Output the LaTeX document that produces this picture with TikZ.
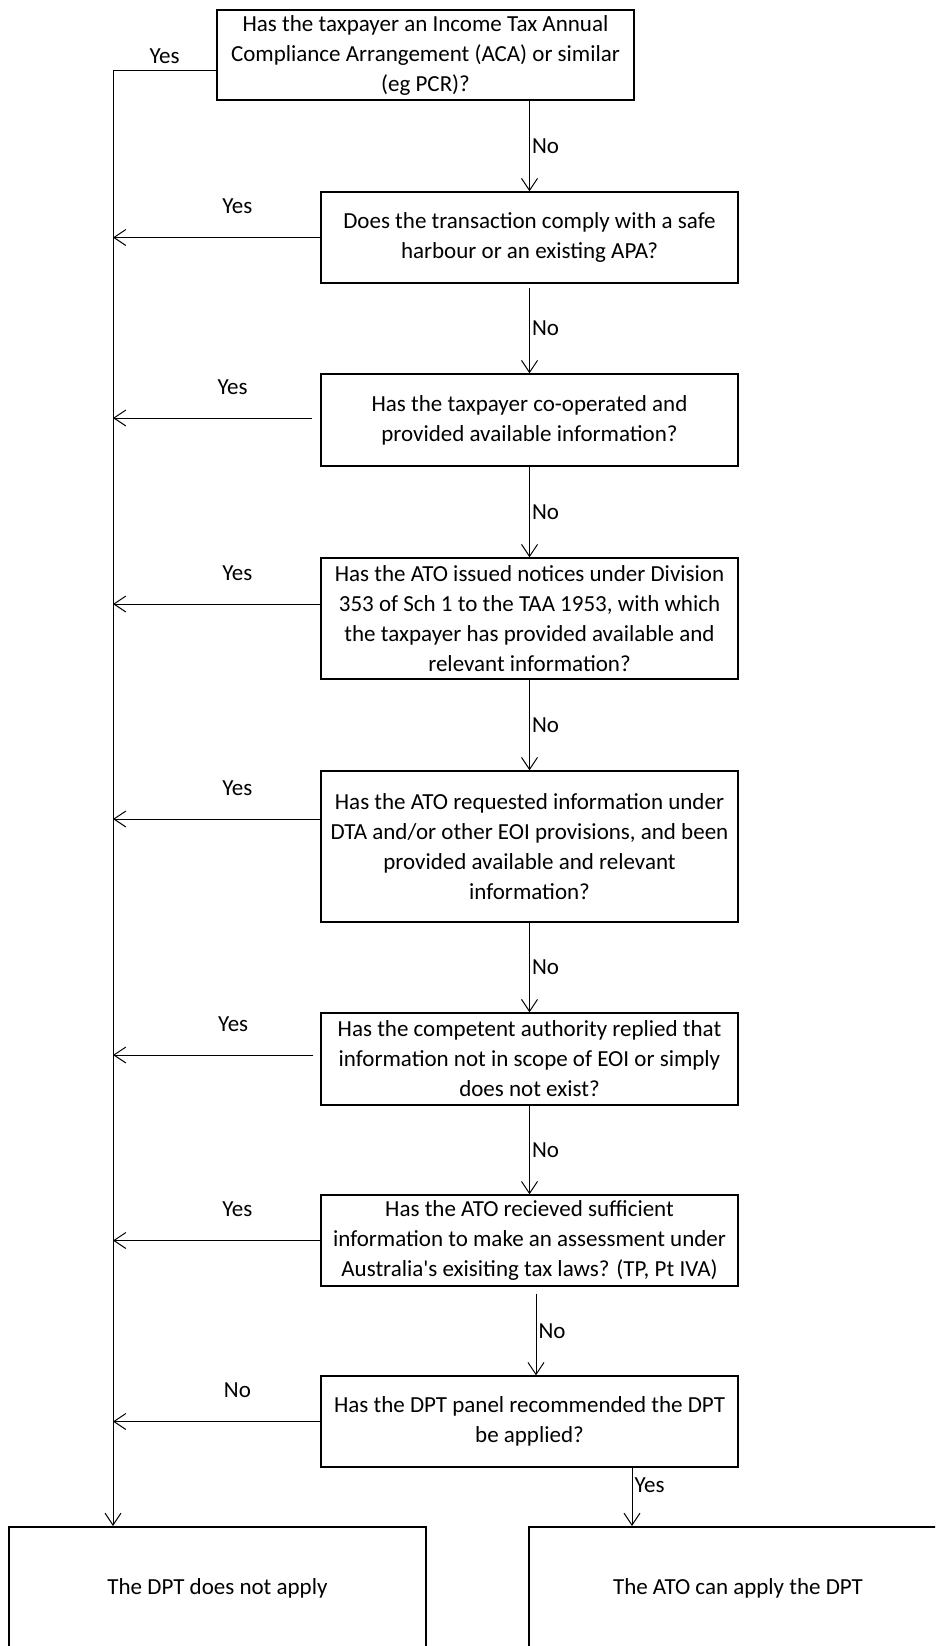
\documentclass[tikz,border=0pt]{standalone}
\usepackage{fontspec}
\setmainfont{Carlito}
\usetikzlibrary{arrows.meta, positioning}
\tikzset{
  qbox/.style={draw, line width=1.4pt, align=center, inner sep=0pt, minimum width=417pt, font=\fontsize{23}{30}\selectfont},
  endbox/.style={draw, line width=2pt, align=center, inner sep=0pt, minimum height=123pt, font=\fontsize{23}{30}\selectfont},
  arr/.style={line width=1pt, -{Straight Barb[length=12pt, width=16pt, line width=1pt]}},
  lbl/.style={font=\fontsize{23}{30}\selectfont, inner sep=2pt}
}

\begin{document}
\begin{tikzpicture}[x=1pt, y=-1pt]
  \useasboundingbox (0,0) rectangle (935,1646);
  \clip (0,0) rectangle (935,1646);
  \node[qbox, minimum height=90pt] (aca) at (425.5,55) {Has the taxpayer an Income Tax Annual\\Compliance Arrangement (ACA) or similar\\(eg PCR)?};
  \node[qbox, minimum height=91pt] (safe) at (529.5,237.5) {Does the transaction comply with a safe\\harbour or an existing APA?};
  \node[qbox, minimum height=92pt] (coop) at (529.5,420) {Has the taxpayer co-operated and\\provided available information?};
  \node[qbox, minimum height=121pt] (notice) at (529.5,618.5) {Has the ATO issued notices under Division\\353 of Sch 1 to the TAA 1953, with which\\the taxpayer has provided available and\\relevant information?};
  \node[qbox, minimum height=151pt] (dta) at (529.5,846.5) {Has the ATO requested information under\\DTA and/or other EOI provisions, and been\\provided available and relevant\\information?};
  \node[qbox, minimum height=92pt] (comp) at (529.5,1059) {Has the competent authority replied that\\information not in scope of EOI or simply\\does not exist?};
  \node[qbox, minimum height=91pt] (suff) at (529.5,1240.5) {Has the ATO recieved sufficient\\information to make an assessment under\\Australia\textquotesingle s exisiting tax laws? (TP, Pt IVA)};
  \node[qbox, minimum height=91pt] (panel) at (529.5,1421.5) {Has the DPT panel recommended the DPT\\be applied?};
  \node[endbox, minimum width=417pt] (noapply) at (217.5,1588.5) {The DPT does not apply};
  \node[endbox, minimum width=418pt] (apply) at (738,1588.5) {The ATO can apply the DPT};
  \coordinate (spine) at (113,71);
  \draw[line width=1pt] (aca.west |- spine) -- (spine) node[lbl, pos=0.5, yshift=15pt] {Yes};
  \draw[arr] (spine) -- (spine |- noapply.north);
  \draw[arr] (safe.west) -- (safe.west -| spine) node[lbl, pos=0.4, yshift=31pt] {Yes};
  \draw[arr] ([xshift=-8pt, yshift=2pt]coop.west) -- ([yshift=2pt]coop.west -| spine) node[lbl, pos=0.4, yshift=31pt] {Yes};
  \draw[arr] ([yshift=14.5pt]notice.west) -- ([yshift=14.5pt]notice.west -| spine) node[lbl, pos=0.4, yshift=31pt] {Yes};
  \draw[arr] ([yshift=27.5pt]dta.west) -- ([yshift=27.5pt]dta.west -| spine) node[lbl, pos=0.4, yshift=31pt] {Yes};
  \draw[arr] ([xshift=-7pt, yshift=4pt]comp.west) -- ([yshift=4pt]comp.west -| spine) node[lbl, pos=0.4, yshift=31pt] {Yes};
  \draw[arr] (suff.west) -- (suff.west -| spine) node[lbl, pos=0.4, yshift=31pt] {Yes};
  \draw[arr] (panel.west) -- (panel.west -| spine) node[lbl, pos=0.4, yshift=31pt] {No};
  \draw[arr] (safe.north |- aca.south) -- (safe.north) node[lbl, midway, right] {No};
  \draw[arr, shorten <=4pt] (safe.south) -- (coop.north) node[lbl, midway, right] {No};
  \draw[arr] (coop.south) -- (notice.north) node[lbl, midway, right] {No};
  \draw[arr] (notice.south) -- (dta.north) node[lbl, midway, right] {No};
  \draw[arr] (dta.south) -- (comp.north) node[lbl, midway, right] {No};
  \draw[arr] (comp.south) -- (suff.north) node[lbl, midway, right] {No};
  \draw[arr, shorten <=7pt] ([xshift=6.5pt]suff.south) -- ([xshift=6.5pt]panel.north) node[lbl, midway, right] {No};
  \draw[arr] ([xshift=102.5pt]panel.south) -- ([xshift=102.5pt]panel.south |- apply.north) node[lbl, pos=0.3, right] {Yes};
\end{tikzpicture}
\end{document}
